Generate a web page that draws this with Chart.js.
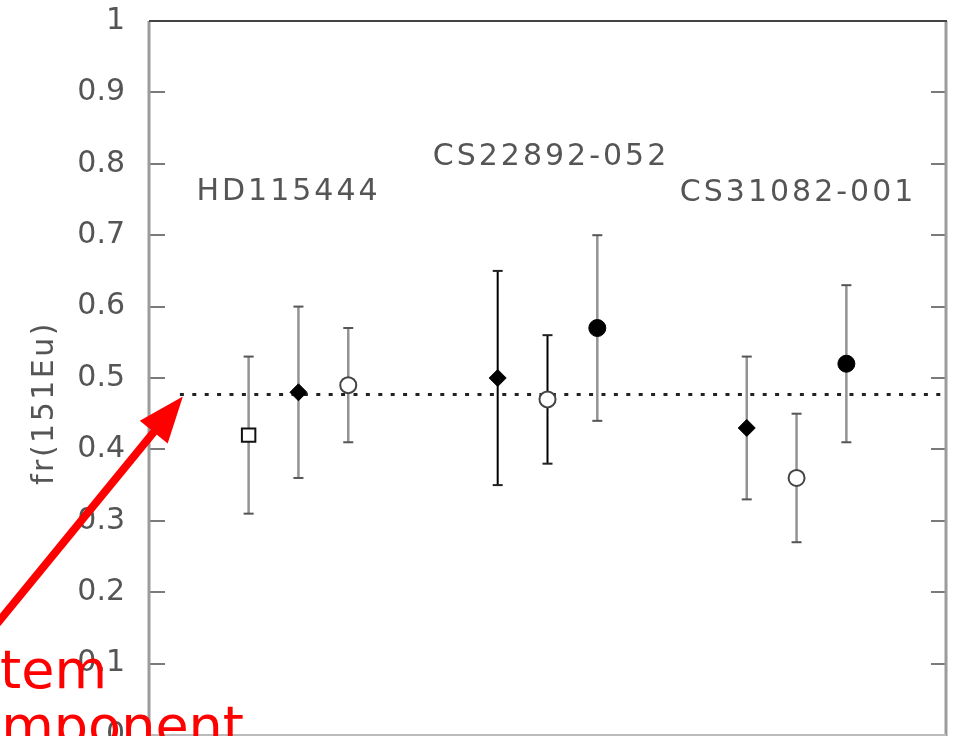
<!DOCTYPE html>
<html>
<head>
<meta charset="utf-8">
<script src="https://cdn.jsdelivr.net/npm/chart.js@4.4.0/dist/chart.umd.min.js"></script>
<style>
  html, body { margin: 0; padding: 0; background: #fff; }
  #wrap { width: 953px; height: 736px; }
</style>
</head>
<body>
<div id="wrap"><canvas id="myChart" width="953" height="736"></canvas></div>
<script>
// -------------  DATA  -------------
const xPos    = [2, 3, 4, 7, 8, 9, 12, 13, 14];
const fr151   = [0.42, 0.48, 0.49, 0.50, 0.47, 0.57, 0.43, 0.36, 0.52];
const errLow  = [0.31, 0.36, 0.41, 0.35, 0.38, 0.44, 0.33, 0.27, 0.41];
const errHigh = [0.53, 0.60, 0.57, 0.65, 0.56, 0.70, 0.53, 0.45, 0.63];
const marker  = ['square', 'diamond', 'open', 'diamond', 'open', 'filled', 'diamond', 'open', 'filled'];
const barTone = ['grey', 'grey', 'grey', 'black', 'black', 'grey', 'grey', 'grey', 'grey'];

const solarFr   = 0.477;     // dotted reference line
const solarFrom = 0.62;      // where the dotted line starts (x units)

const starNames = ['HD115444', 'CS22892-052', 'CS31082-001'];
const starX     = [2.8, 8.07, 13.03];
const starY     = [0.749, 0.798, 0.748];

const yTicks = [0, 0.1, 0.2, 0.3, 0.4, 0.5, 0.6, 0.7, 0.8, 0.9, 1];

const noteLines = ['System', 'component'];
//============================================================================

const styleOf = {
    square:  { style: 'rect',    r: 9.5, bg: '#fff', bd: '#111', bw: 2 },
    diamond: { style: 'rectRot', r: 8.5, bg: '#000', bd: '#000', bw: 1 },
    open:    { style: 'circle',  r: 8,   bg: '#fff', bd: '#444', bw: 2 },
    filled:  { style: 'circle',  r: 8.5, bg: '#000', bd: '#000', bw: 1 }
};

// error bars as broken line segments (null breaks the path)
function barData(tone) {
    const out = [];
    xPos.forEach((x, i) => {
        if (barTone[i] !== tone) return;
        out.push({ x: x, y: errLow[i] }, { x: x, y: errHigh[i] }, { x: x, y: null });
    });
    return out;
}

const framePlugin = {
    id: 'frame',
    beforeDatasetsDraw(chart) {
        const { ctx, chartArea: a, scales: { y } } = chart;
        ctx.save();
        ctx.strokeStyle = '#7a7a7a';
        ctx.lineWidth = 2;
        y.ticks.forEach(t => {
            const py = Math.round(y.getPixelForValue(t.value));
            ctx.beginPath();
            ctx.moveTo(a.left, py); ctx.lineTo(a.left + 16, py);
            ctx.moveTo(a.right - 15, py); ctx.lineTo(a.right, py);
            ctx.stroke();
        });
        ctx.lineWidth = 3;
        ctx.strokeStyle = '#9c9c9c';
        ctx.beginPath();
        ctx.moveTo(a.left, a.top); ctx.lineTo(a.left, a.bottom + 2);
        ctx.moveTo(a.right, a.top); ctx.lineTo(a.right, a.bottom + 2);
        ctx.stroke();
        ctx.lineWidth = 2;
        ctx.strokeStyle = '#bbb';
        ctx.beginPath();
        ctx.moveTo(a.left, a.bottom); ctx.lineTo(a.right, a.bottom);
        ctx.stroke();
        ctx.strokeStyle = '#444';
        ctx.beginPath();
        ctx.moveTo(a.left, a.top); ctx.lineTo(a.right + 1, a.top);
        ctx.stroke();

        // star names
        ctx.fillStyle = '#555';
        ctx.font = '30px "DejaVu Sans"';
        ctx.letterSpacing = '3px';
        ctx.textAlign = 'center';
        ctx.textBaseline = 'alphabetic';
        starNames.forEach((s, i) => {
            ctx.fillText(s, chart.scales.x.getPixelForValue(starX[i]), y.getPixelForValue(starY[i]));
        });

        // y title
        ctx.letterSpacing = '2.5px';
        ctx.translate(53, (y.getPixelForValue(0.58) + y.getPixelForValue(0.35)) / 2);
        ctx.rotate(-Math.PI / 2);
        ctx.fillText('fr(151Eu)', 0, 0);
        ctx.restore();
    },
    afterDraw(chart) {
        const { ctx, scales: { x, y } } = chart;
        const tipX = x.getPixelForValue(0.68), tipY = y.getPixelForValue(solarFr) + 2;
        const tailX = 0, tailY = 620;
        const ang = Math.atan2(tipY - tailY, tipX - tailX);
        const headLen = 46, headHalf = 18;
        const bx = tipX - Math.cos(ang) * headLen, by = tipY - Math.sin(ang) * headLen;
        ctx.save();
        ctx.strokeStyle = '#ff0000';
        ctx.fillStyle = '#ff0000';
        ctx.lineWidth = 8;
        ctx.beginPath();
        ctx.moveTo(tailX - 10 * Math.cos(ang), tailY - 10 * Math.sin(ang));
        ctx.lineTo(bx + 4 * Math.cos(ang), by + 4 * Math.sin(ang));
        ctx.stroke();
        ctx.beginPath();
        ctx.moveTo(tipX, tipY);
        ctx.lineTo(bx + Math.sin(ang) * headHalf, by - Math.cos(ang) * headHalf);
        ctx.lineTo(bx - Math.sin(ang) * headHalf, by + Math.cos(ang) * headHalf);
        ctx.closePath();
        ctx.fill();

        ctx.font = '54px "DejaVu Sans"';
        ctx.textAlign = 'right';
        ctx.textBaseline = 'alphabetic';
        ctx.fillText(noteLines[0], 107, 688);
        ctx.fillText(noteLines[1], 244, 744);
        ctx.restore();
    }
};

const ctx = document.getElementById('myChart').getContext('2d');
const chart = new Chart(ctx, {
    type: 'scatter',
    data: {
        datasets: [
            {
                label: 'fr(151Eu)',
                data: xPos.map((x, i) => ({ x: x, y: fr151[i] })),
                pointStyle: marker.map(m => styleOf[m].style),
                pointRadius: marker.map(m => styleOf[m].r),
                pointBackgroundColor: marker.map(m => styleOf[m].bg),
                pointBorderColor: marker.map(m => styleOf[m].bd),
                pointBorderWidth: marker.map(m => styleOf[m].bw)
            },
            {
                label: 'err black',
                data: barData('black'),
                showLine: true,
                spanGaps: false,
                borderColor: '#000',
                borderWidth: 2,
                pointStyle: 'line',
                pointRadius: 5,
                pointBorderColor: '#222',
                pointBorderWidth: 2
            },
            {
                label: 'err grey',
                data: barData('grey'),
                showLine: true,
                spanGaps: false,
                borderColor: '#939393',
                borderWidth: 2.5,
                pointStyle: 'line',
                pointRadius: 5,
                pointBorderColor: '#555',
                pointBorderWidth: 2
            },
            {
                label: 'solar',
                data: [{ x: solarFrom, y: solarFr }, { x: 16, y: solarFr }],
                showLine: true,
                borderColor: '#222',
                borderWidth: 3,
                borderDash: [4, 8.4],
                pointRadius: 0
            }
        ]
    },
    plugins: [framePlugin],
    options: {
        responsive: false,
        animation: false,
        events: [],
        devicePixelRatio: 1,
        layout: { autoPadding: false, padding: { top: 21, right: 7, bottom: 1, left: 0 } },
        scales: {
            x: {
                type: 'linear',
                min: 0,
                max: 16,
                display: false
            },
            y: {
                type: 'linear',
                min: 0,
                max: 1,
                afterBuildTicks: scale => { scale.ticks = yTicks.map(v => ({ value: v })); },
                afterFit: scale => {
                    scale.width = 149;
                    scale.paddingTop = 0;
                    scale.paddingBottom = 0;
                },
                border: { display: false },
                grid: { drawOnChartArea: false, drawTicks: false },
                ticks: {
                    padding: 24,
                    color: '#555',
                    font: { size: 30, family: 'DejaVu Sans' },
                    callback: v => String(Number(v.toFixed(1)))
                }
            }
        },
        plugins: {
            legend: { display: false },
            tooltip: { enabled: false }
        }
    }
});
</script>
</body>
</html>
